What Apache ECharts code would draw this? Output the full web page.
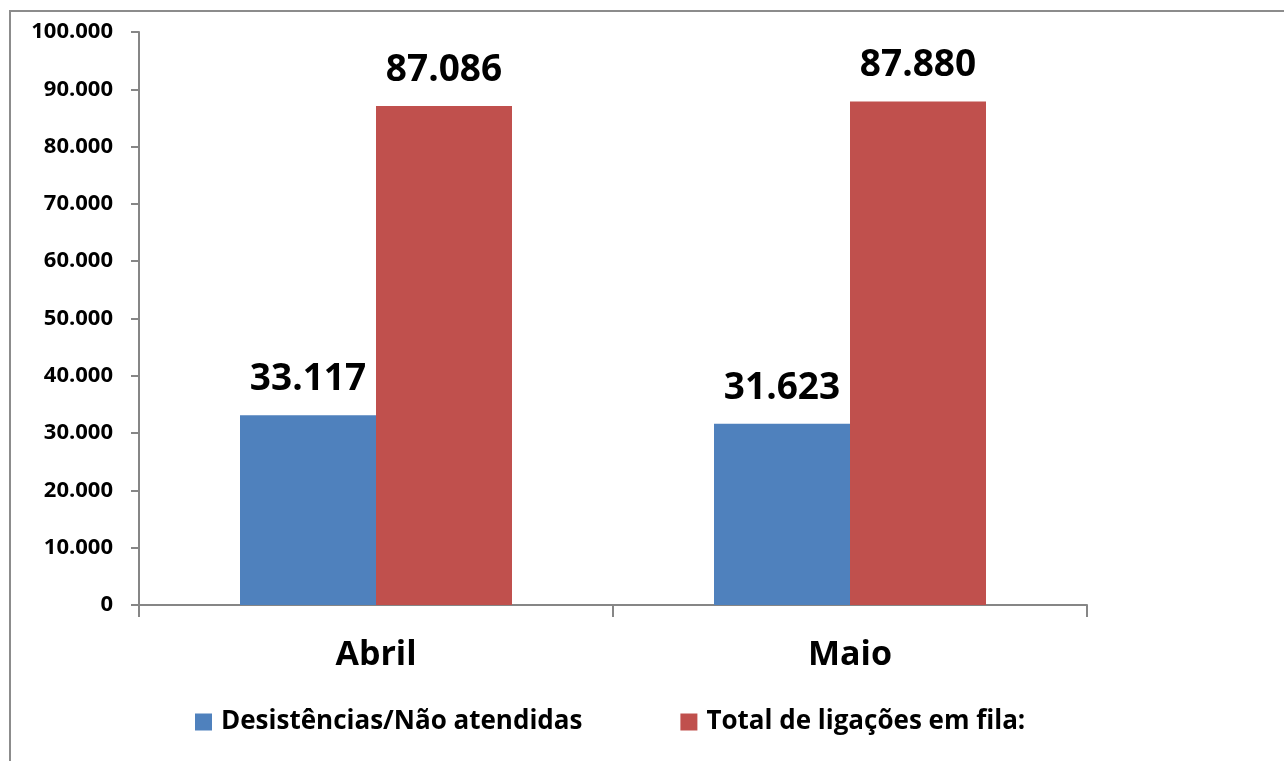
<!DOCTYPE html>
<html>
<head>
<meta charset="utf-8">
<script src="https://cdn.jsdelivr.net/npm/echarts@6/dist/echarts.min.js"></script>
<style>
  html, body { margin: 0; padding: 0; background: #fff; }
  #main { width: 1284px; height: 761px; }
</style>
</head>
<body>
<div id="main"></div>
<script>
var categories = ['Abril', 'Maio'];
var desistencias = [33117, 31623];
var totalFila = [87086, 87880];
var seriesNames = ['Desistências/Não atendidas', 'Total de ligações em fila:'];

function fmt(v) {
  return String(v).replace(/\B(?=(\d{3})+(?!\d))/g, '.');
}

var chartDom = document.getElementById('main');
var myChart = echarts.init(chartDom);
var option;

var fontFam = '"Open Sans", "Noto Sans", sans-serif';

option = {
  animation: false,
  textStyle: { fontFamily: fontFam },
  graphic: [{
    type: 'rect',
    shape: { x: 10, y: 11, width: 1300, height: 800 },
    style: { fill: 'none', stroke: '#8c8c8c', lineWidth: 2 }
  }],
  legend: {
    data: seriesNames,
    top: 704,
    left: 190,
    itemWidth: 17,
    itemHeight: 17,
    itemGap: 98,
    icon: 'rect',
    textStyle: { fontSize: 26, fontWeight: 'bold', color: '#000', fontFamily: fontFam, padding: [0, 0, 0, 4] }
  },
  grid: {
    left: 139,
    top: 32,
    width: 948,
    height: 573
  },
  xAxis: {
    type: 'category',
    data: categories,
    axisLine: { lineStyle: { color: '#868686', width: 2 } },
    axisTick: { show: true, length: 12, lineStyle: { color: '#868686', width: 2 } },
    axisLabel: { fontSize: 34, fontWeight: 'bold', color: '#000', margin: 33, fontFamily: fontFam }
  },
  yAxis: {
    type: 'value',
    min: 0,
    max: 100000,
    interval: 10000,
    splitLine: { show: false },
    axisLine: { show: true, lineStyle: { color: '#868686', width: 2 } },
    axisTick: { show: true, length: 8, lineStyle: { color: '#868686', width: 2 } },
    axisLabel: {
      fontSize: 22, fontWeight: 'bold', color: '#000', margin: 26, fontFamily: fontFam,
      formatter: function (v) { return fmt(v); }
    }
  },
  series: [
    {
      name: seriesNames[0],
      type: 'bar',
      data: desistencias,
      barWidth: 136,
      barGap: '0%',
      itemStyle: { color: '#4f81bd' },
      label: {
        show: true, position: 'top', distance: 17,
        fontSize: 37, fontWeight: 'bold', color: '#000', fontFamily: fontFam,
        formatter: function (p) { return fmt(p.value); }
      }
    },
    {
      name: seriesNames[1],
      type: 'bar',
      data: totalFila,
      barWidth: 136,
      barGap: '0%',
      itemStyle: { color: '#c0504d' },
      label: {
        show: true, position: 'top', distance: 17,
        fontSize: 37, fontWeight: 'bold', color: '#000', fontFamily: fontFam,
        formatter: function (p) { return fmt(p.value); }
      }
    }
  ]
};

option && myChart.setOption(option);
</script>
</body>
</html>
